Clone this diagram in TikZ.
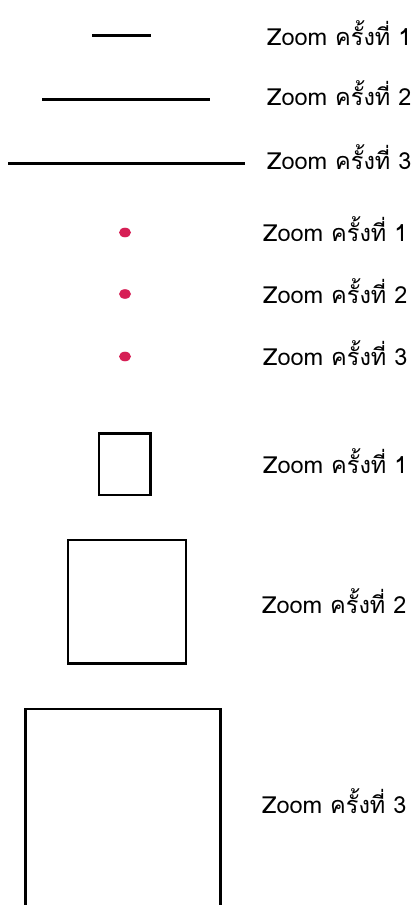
\documentclass[tikz,border=0pt]{standalone}
\usepackage{fontspec}
\newfontfamily\thaifont[Script=Thai]{Loma}
\usetikzlibrary{positioning}
\definecolor{dotred}{HTML}{D61F55}
\tikzset{
  zoomlabel/.style={
    anchor=base west,
    inner sep=0pt,
    font=\thaifont\fontsize{23.5}{25}\selectfont
  },
  zoomline/.style={
    line width=3pt
  },
  zoombox/.style={
    draw,
    line width=2.5pt
  },
  zoomdot/.style={
    fill=dotred,
    draw=none
  }
}
\begin{document}
\begin{tikzpicture}[x=1pt,y=-1pt]
\clip (0,0) rectangle (414,905);

% --- Lignes ---
\draw[zoomline] (92,35) -- (151,35);
\draw[zoomline] (42,99) -- (210,99);
\draw[zoomline] (8,163) -- (245,163);
\node[zoomlabel] (line1) at (267,45.5) {Zoom ครั้งที่ 1};
\node[zoomlabel] (line2) at (267,105.5) {Zoom ครั้งที่ 2};
\node[zoomlabel] (line3) at (267,169.5) {Zoom ครั้งที่ 3};

% --- Points ---
\fill[zoomdot] (125,232.5) ellipse (6 and 4.8);
\fill[zoomdot] (125,294) ellipse (6 and 4.8);
\fill[zoomdot] (125,356.5) ellipse (6 and 4.8);
\node[zoomlabel] (dot1) at (263,241.5) {Zoom ครั้งที่ 1};
\node[zoomlabel] (dot2) at (263,303.5) {Zoom ครั้งที่ 2};
\node[zoomlabel] (dot3) at (263,365.5) {Zoom ครั้งที่ 3};

% --- Carres ---
\draw[zoombox] (99,433.5) rectangle (150.5,495);
\draw[zoombox] (68,540) rectangle (186,663.5);
\draw[zoombox] (25.5,709) rectangle (220.5,960);
\node[zoomlabel] (box1) at (263,473.5) {Zoom ครั้งที่ 1};
\node[zoomlabel] (box2) at (262,613.5) {Zoom ครั้งที่ 2};
\node[zoomlabel] (box3) at (262,813.5) {Zoom ครั้งที่ 3};

\end{tikzpicture}
\end{document}
